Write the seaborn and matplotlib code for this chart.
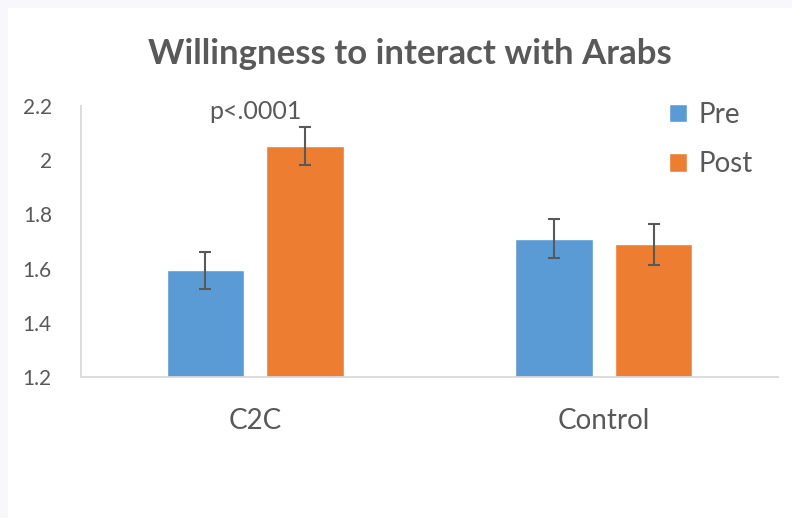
import pandas as pd
import seaborn as sns
import matplotlib.pyplot as plt
import matplotlib.patches as mpatches

# data
groups = ['C2C', 'C2C', 'Control', 'Control']
phases = ['Pre', 'Post', 'Pre', 'Post']
means = [1.593, 2.052, 1.711, 1.689]
errs = [0.067, 0.071, 0.071, 0.074]

df = pd.DataFrame({'Group': groups, 'Phase': phases, 'Score': means, 'Err': errs})

sns.set_style('white')
plt.rcParams['font.family'] = ['Lato', 'DejaVu Sans']
txt = '#595959'

fig = plt.figure(figsize=(7.92, 5.18), dpi=100)
fig.patch.set_facecolor('#F8F8FC')
# white card, leaving a thin strip at left and top like the screenshot
fig.patches.append(mpatches.Rectangle((8 / 792, 0), 1, 1 - 8 / 518, transform=fig.transFigure,
                                      facecolor='white', edgecolor='none', zorder=-10))
ax = fig.add_axes([81 / 792, 141 / 518, 697 / 792, 271 / 518])
ax.set_facecolor('none')

sns.barplot(data=df, x='Group', y='Score', hue='Phase', palette=['#5B9BD5', '#ED7D31'],
            width=0.572, gap=0.22, errorbar=None, ax=ax, saturation=1)

# error bars at the bar centres
bars = [p for p in ax.patches if p.get_height() > 0]
for p in bars:
    cx = p.get_x() + p.get_width() / 2
    row = df[(df['Score'] - p.get_y() - p.get_height()).abs() < 1e-6]
    if len(row) == 0:
        continue
    ax.errorbar(cx, row['Score'].iloc[0], yerr=row['Err'].iloc[0], color=txt,
                capsize=4.5, elinewidth=1.5, capthick=1.5)

ax.set_ylim(1.2, 2.2)
ax.set_yticks([1.2, 1.4, 1.6, 1.8, 2.0, 2.2])
ax.set_yticklabels(['1.2', '1.4', '1.6', '1.8', '2', '2.2'])
ax.set_xlim(-0.5, 1.5)
ax.set_xlabel('')
ax.set_ylabel('')
ax.tick_params(axis='y', labelsize=15, colors=txt, length=0, pad=21)
ax.tick_params(axis='x', labelsize=20, colors=txt, length=0, pad=22)
sns.despine(ax=ax)
for s in ['left', 'bottom']:
    ax.spines[s].set_color('#D9D9D9')
    ax.spines[s].set_linewidth(1.3)

ax.text(0, 2.181, 'p<.0001', ha='center', va='center', fontsize=18, color=txt)

fig.text(410 / 792, 1 - 54 / 518, 'Willingness to interact with Arabs', ha='center', va='center',
         fontsize=25, fontweight='bold', color=txt)

ax.legend(loc='upper left', bbox_to_anchor=(655 / 792, 1 - 88 / 518), bbox_transform=fig.transFigure,
          frameon=False, fontsize=20, handlelength=0.65, handleheight=0.65, handletextpad=0.4,
          labelspacing=0.85, borderpad=0, labelcolor=txt)

fig.savefig('out.png', dpi=100)
